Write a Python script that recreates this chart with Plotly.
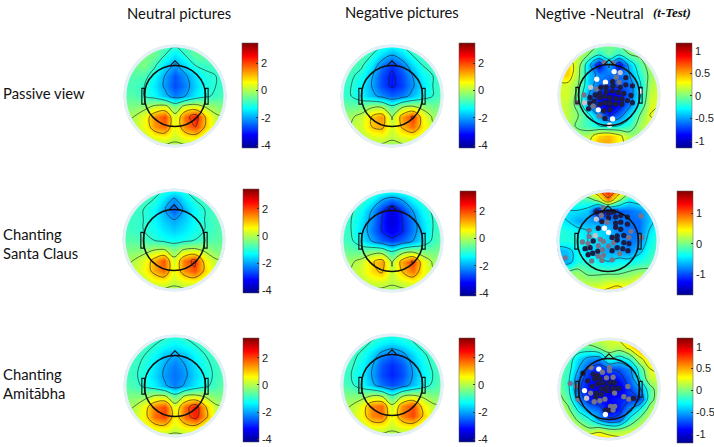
import plotly.graph_objects as go

W, H = 714, 447
grid_x = [-100, -80, -60, -40, -20, 0, 20, 40, 60, 80, 100]

row_labels = ["Passive view", "Chanting<br>Santa Claus", "Chanting<br>Amitābha"]
col_titles = ["Neutral pictures", "Negative pictures", "Negtive -Neutral"]

neutral_passive = [
 [-.5,-.5,-.5,-.5,-.7,-.9,-.7,-.5,-.5,-.5,-.5],
 [-.5,-.5,-.4,-.5,-1.,-1.5,-1.,-.6,-.6,-.6,-.6],
 [-.6,-.5,-.4,-.9,-1.6,-2.1,-1.6,-1.,-.9,-.8,-.8],
 [-.7,-.7,-.8,-1.3,-2.,-2.6,-2.1,-1.5,-1.1,-1.,-.9],
 [-.8,-.8,-1.,-1.5,-2.1,-2.7,-2.3,-1.6,-1.2,-1.,-.9],
 [-.7,-.7,-1.,-1.3,-1.8,-2.3,-2.,-1.4,-1.1,-.9,-.8],
 [-.4,-.4,-.3,.1,.2,-.5,.2,.3,-.1,-.3,-.4],
 [-.1,0,.5,1.5,2.,.2,1.7,2.4,.9,.1,-.1],
 [0,.1,.5,1.4,1.7,.4,1.5,2.,.9,.2,0],
 [-.1,0,.1,.5,.6,.2,.6,.7,.2,0,0],
 [-.2,-.2,-.2,-.2,-.2,-.2,-.2,-.2,-.2,-.2,-.2]]
negative_passive = [
 [-.6,-.6,-.7,-.8,-1.,-1.2,-1.,-.8,-.7,-.6,-.6],
 [-.6,-.6,-.7,-1.,-1.6,-2.,-1.6,-1.,-.8,-.7,-.6],
 [-.7,-.7,-.9,-1.5,-2.4,-2.9,-2.4,-1.6,-1.,-.8,-.7],
 [-.8,-.9,-1.2,-1.9,-2.7,-3.1,-2.7,-2.,-1.3,-1.,-.8],
 [-.9,-1.,-1.4,-2.,-2.7,-3.1,-2.8,-2.1,-1.5,-1.,-.8],
 [-.9,-1.,-1.4,-1.8,-2.2,-2.5,-2.3,-1.8,-1.3,-1.,-.7],
 [-.5,-.6,-.5,-.2,-.2,-.9,-.2,0,-.3,-.5,-.4],
 [-.2,-.1,.2,1.,1.4,-.1,1.3,2.1,.6,-.1,-.1],
 [-.1,0,.3,1.,1.2,.2,1.1,1.7,.7,.1,0],
 [-.2,-.1,0,.3,.4,.1,.4,.5,.2,0,0],
 [-.2,-.2,-.2,-.2,-.2,-.2,-.2,-.2,-.2,-.2,-.2]]
difference_passive = [
 [.1,.1,.1,.1,0,0,0,.1,.1,.1,.1],
 [.2,.2,.15,0,-.2,-.05,-.2,0,.05,.1,.1],
 [.4,.4,.1,-.4,-.9,-.45,-.9,-.4,-.1,.1,.1],
 [.4,.4,.05,-.4,-.55,-.6,-.6,-.5,-.2,.05,.2],
 [.2,.2,0,-.4,-.6,-.7,-.7,-.6,-.3,.1,.2],
 [.2,.2,-.1,-.5,-.8,-.95,-.85,-.6,-.3,.15,.25],
 [.2,.15,-.1,-.5,-.85,-1.05,-.85,-.55,-.2,.2,.25],
 [.2,.15,0,-.2,-.5,-.75,-.6,-.3,0,.25,.3],
 [.2,.1,-.05,-.15,-.25,-.3,-.25,-.15,.1,.2,.2],
 [.2,.15,.1,.15,.4,.45,.3,.1,.05,.1,.1],
 [.3,.3,.3,.3,.5,.5,.3,.2,.1,.1,.1]]
neutral_santa = [
 [-.6,-.6,-.7,-.8,-1.,-1.1,-1.,-.8,-.7,-.6,-.6],
 [-.6,-.7,-.8,-1.,-1.5,-2.1,-1.5,-1.,-.8,-.7,-.6],
 [-.7,-.8,-1.,-1.3,-1.9,-2.6,-1.9,-1.3,-1.,-.8,-.7],
 [-.8,-.9,-1.,-1.3,-1.7,-2.,-1.7,-1.3,-1.,-.8,-.7],
 [-.8,-.9,-1.,-1.2,-1.5,-1.7,-1.5,-1.2,-1.,-.8,-.7],
 [-.7,-.7,-.8,-1.,-1.2,-1.3,-1.2,-1.,-.8,-.7,-.6],
 [-.4,-.4,-.3,0,.1,-.4,.1,.2,-.1,-.4,-.4],
 [-.1,0,.4,1.2,1.9,.2,1.6,2.2,.7,.1,-.1],
 [0,.1,.5,1.2,1.7,.4,1.4,1.9,.9,.2,0],
 [-.1,0,.1,.5,.6,.2,.5,.6,.2,0,0],
 [-.2,-.2,-.2,-.2,-.2,-.2,-.2,-.2,-.2,-.2,-.2]]
negative_santa = [
 [-.5,-.5,-.6,-.7,-.9,-1.,-.9,-.7,-.6,-.5,-.5],
 [-.6,-.7,-.9,-1.3,-2.,-2.4,-2.,-1.3,-.9,-.7,-.6],
 [-.7,-.9,-1.3,-2.,-2.9,-3.5,-2.9,-2.,-1.3,-.9,-.7],
 [-.8,-1.,-1.5,-2.2,-3.,-3.6,-3.,-2.3,-1.5,-1.,-.7],
 [-.8,-1.,-1.6,-2.3,-3.,-3.4,-3.,-2.3,-1.6,-1.,-.7],
 [-.8,-.9,-1.4,-2.,-2.5,-2.8,-2.5,-2.,-1.4,-.9,-.6],
 [-.5,-.6,-.6,-.4,-.4,-1.1,-.4,-.2,-.5,-.5,-.4],
 [-.2,-.1,.2,.9,1.3,-.1,1.3,2.1,.6,-.1,-.1],
 [-.1,0,.3,.8,1.1,.1,1.,1.6,.6,.1,0],
 [-.1,-.1,0,.3,.3,.1,.3,.5,.2,0,0],
 [-.2,-.2,-.2,-.2,-.2,-.2,-.2,-.2,-.2,-.2,-.2]]
difference_santa = [
 [.3,.3,.3,.5,.9,1.3,.9,.3,.2,.2,.2],
 [-.2,-.2,-.2,-.2,.1,.9,.1,-.4,-.3,-.2,-.1],
 [-.5,-.5,-.5,-.6,-1.3,-1.2,-1.,-.9,-.8,-.6,-.4],
 [-.4,-.5,-.7,-.7,-.8,-.8,-.8,-.9,-.9,-.6,-.4],
 [-.3,-.3,-.4,-.5,-.5,-.6,-.8,-.9,-.9,-.5,-.3],
 [-.3,-.3,-.3,-.5,-.5,-.6,-.7,-.9,-.8,-.4,-.2],
 [-.7,-.6,-.4,-.5,-.6,-.7,-.7,-.8,-.6,-.3,-.2],
 [-.5,-.7,-.3,-.3,-.4,-.5,-.4,-.4,-.3,-.2,-.1],
 [0,0,.1,-.1,-.1,-.1,-.1,0,.1,.1,.1],
 [.2,.2,.2,.2,.2,.3,.3,.3,.5,.4,.3],
 [.2,.2,.3,.3,.5,.6,.8,.5,.4,.3,.3]]
neutral_amitabha = [
 [-.6,-.6,-.7,-.8,-.9,-1.,-.9,-.8,-.7,-.6,-.6],
 [-.6,-.7,-.8,-1.,-1.2,-1.4,-1.2,-1.,-.8,-.7,-.6],
 [-.7,-.8,-1.,-1.3,-1.8,-2.,-1.8,-1.3,-1.,-.8,-.7],
 [-.8,-.9,-1.1,-1.5,-2.,-2.3,-2.,-1.5,-1.1,-.9,-.7],
 [-.8,-.9,-1.2,-1.6,-2.1,-2.4,-2.1,-1.6,-1.2,-.9,-.7],
 [-.7,-.8,-1.1,-1.4,-1.9,-2.3,-1.9,-1.4,-1.1,-.8,-.6],
 [-.4,-.4,-.3,.1,.1,-.7,.1,.2,-.1,-.4,-.4],
 [-.1,0,.6,1.6,2.,.3,1.7,2.4,1.,.1,-.1],
 [0,.1,.7,1.7,2.,.6,1.7,2.3,1.2,.2,0],
 [-.1,0,.2,.7,.8,.3,.7,.8,.3,0,0],
 [-.2,-.2,-.2,-.2,-.2,-.2,-.2,-.2,-.2,-.2,-.2]]
negative_amitabha = [
 [-.6,-.6,-.7,-.8,-.9,-1.,-.9,-.8,-.7,-.6,-.6],
 [-.6,-.7,-.8,-1.1,-1.4,-1.6,-1.4,-1.1,-.8,-.7,-.6],
 [-.7,-.8,-1.1,-1.6,-2.2,-2.5,-2.2,-1.6,-1.1,-.8,-.7],
 [-.8,-.9,-1.3,-1.9,-2.6,-2.9,-2.6,-1.9,-1.3,-.9,-.7],
 [-.8,-1.,-1.4,-2.,-2.7,-3.,-2.7,-2.,-1.4,-1.,-.7],
 [-.7,-.9,-1.3,-1.8,-2.4,-2.7,-2.4,-1.8,-1.3,-.9,-.6],
 [-.4,-.4,-.4,-.1,-.2,-1.,-.2,0,-.2,-.4,-.4],
 [-.1,0,.5,1.5,1.7,.1,1.4,2.,.7,.1,-.1],
 [0,.1,.6,1.5,1.7,.4,1.5,2.,1.,.2,0],
 [-.1,0,.1,.6,.6,.2,.6,.7,.2,0,0],
 [-.2,-.2,-.2,-.2,-.2,-.2,-.2,-.2,-.2,-.2,-.2]]
difference_amitabha = [
 [.3,.3,.2,.2,.2,.2,.3,.5,.6,.6,.5],
 [.2,.1,-.1,-.1,0,.15,.1,.3,.55,.5,.4],
 [.1,-.1,-.4,-.55,-.6,-.2,-.35,-.2,.2,.4,.35],
 [-.1,-.15,-.5,-.75,-.85,-.75,-.7,-.55,-.15,.25,.3],
 [-.05,-.2,-.65,-.85,-.9,-.95,-.85,-.65,-.25,.15,.2],
 [0,-.2,-.7,-.9,-.95,-1.05,-1.,-.75,-.55,-.1,.15],
 [.1,-.1,-.6,-.85,-.9,-.9,-.85,-.8,-.75,-.1,.15],
 [.3,.05,-.3,-.55,-.65,-.95,-.85,-.5,-.25,.1,.2],
 [.55,.2,-.05,-.2,-.5,-.7,-.65,-.2,.05,.2,.2],
 [.5,.3,.2,.05,.15,.05,.05,.15,.2,.2,.2],
 [.3,.3,.4,.5,.55,.45,.35,.3,.2,.2,.2]]

dots_passive_x = [-9,8,10,22,-24,-7,14,33,7,20,-36,-24,-16,-6,8,22,33,46,62,-49,-37,-27,-18,-5,7,18,29,43,-62,-48,-37,-29,-18,-8,2,14,25,36,46,-40,-31,-21,-18,-8,2,13,25,-10,2,-19,-8,7,1]
dots_passive_y = [63,63,46,44,31,25,35,34,26,25,15,12,15,16,18,15,20,18,7,0,-5,0,3,7,8,5,3,-1,-15,-15,-16,-12,-5,-3,-5,-7,-8,-11,-15,-27,-22,-29,-18,-15,-16,-18,-18,-31,-29,-41,-46,-47,-59]
dots_passive_s = "ggwlwwgkkglgkkkkkkwgkkkkkkkkglkkkkkkkkkkgwkkkkkkkgkww"
dots_santa_x = [-9,1,-11,11,-22,-23,-13,1,15,25,38,65,-12,-2,15,25,38,-19,-7,1,15,25,45,-37,-25,-37,-15,8,18,31,41,66,-50,-39,-29,-9,11,18,31,41,-45,-35,-19,1,18,29,39,-39,-30,-20,-11,8,23,-19,-9,-32,-12,8,-84]
dots_santa_y = [65,55,55,57,57,43,50,45,47,50,47,49,38,37,35,37,33,25,25,17,27,23,19,21,11,9,3,7,10,11,7,7,-2,-5,0,-1,-3,2,-3,-5,-15,-13,-9,-10,-13,-15,-19,-27,-24,-20,-17,-19,-25,-30,-28,-39,-38,-37,-33]
dots_santa_s = "gkkkklgkkkkgkgkkkkwwkkgglggkkkggggkggkkkkkggkkkkkkgkggggggg"
dots_amitabha_x = [-20,-35,1,1,-51,-31,-22,-13,-42,-28,-18,-5,8,-76,-64,-33,-22,-12,1,11,37,-48,-36,-25,-15,-4,8,19,-26,-15,-5,8,11,29,39,48,-44,-61,-29,-18,-8,3,11,-7,1,8,-7]
dots_amitabha_y = [39,42,42,36,31,29,26,33,16,20,20,22,23,11,5,5,10,12,13,13,5,-3,-8,-8,0,3,1,1,-16,-11,-3,-5,-8,-15,-20,-18,-18,-20,-25,-23,-20,-34,-34,-41,-42,-41,-50]
dots_amitabha_s = "wgggkkkgkkkggggkkkkkgwgkkkkkkkkkgggklggggggkkgw"

tick_a = [-4, -2, 0, 2]
tick_p = [-1, -0.5, 0, 0.5, 1]
tick_s = [-1, 0, 1]
tick_t_a = ["-4", "-2", "0", "2"]
tick_t_p = ["-1", "-0.5", "0", "0.5", "1"]
tick_t_s = ["-1", "0", "1"]

matlab_jet = [[0, "rgb(0,0,143)"], [.125, "rgb(0,0,255)"], [.375, "rgb(0,255,255)"], [.625, "rgb(255,255,0)"], [.875, "rgb(255,0,0)"], [1, "rgb(128,0,0)"]]

panels = [
 (neutral_passive, 175, 96, 43, 105, 242, -4.2, 3.46, tick_a, tick_t_a, 1.0),
 (negative_passive, 392, 96, 43, 105, 459, -4.2, 3.46, tick_a, tick_t_a, 1.0),
 (difference_passive, 609, 95, 43, 105, 676, -1.15, 1.17, tick_p, tick_t_p, .25),
 (neutral_santa, 174, 240, 189, 104, 243, -4.2, 3.46, tick_a, tick_t_a, 1.0),
 (negative_santa, 392, 241, 191, 105, 460, -4.2, 3.46, tick_a, tick_t_a, 1.0),
 (difference_santa, 608, 241, 191, 104, 677, -1.7, 1.75, tick_s, tick_t_s, .5),
 (neutral_amitabha, 175, 386, 338, 104, 243, -4.2, 3.46, tick_a, tick_t_a, 1.0),
 (negative_amitabha, 392, 385, 338, 104, 459, -4.2, 3.46, tick_a, tick_t_a, 1.0),
 (difference_amitabha, 609, 389, 338, 105, 677, -1.2, 1.2, tick_p, tick_t_p, .25),
]
dots = {2: (dots_passive_x, dots_passive_y, dots_passive_s),
        5: (dots_santa_x, dots_santa_y, dots_santa_s),
        8: (dots_amitabha_x, dots_amitabha_y, dots_amitabha_s)}
shade = {"k": "#1c1c44", "g": "#74748c", "l": "#c4c4cc", "w": "#ffffff"}

R_PX = 51
HALF_PX = 58
fig = go.Figure()
shapes = []
layout_axes = {}
for i, (z, cx, cy, bar_top, bar_len, bar_x, zmin, zmax, tv, tt, step) in enumerate(panels):
    n = "" if i == 0 else str(i + 1)
    xa, ya = "x" + n, "y" + n
    rng = [-100 * HALF_PX / R_PX, 100 * HALF_PX / R_PX]
    layout_axes["xaxis" + n] = dict(domain=[(cx - HALF_PX) / W, (cx + HALF_PX) / W], range=rng, visible=False, anchor=ya, fixedrange=True)
    layout_axes["yaxis" + n] = dict(domain=[1 - (cy + HALF_PX) / H, 1 - (cy - HALF_PX) / H], range=rng, visible=False, anchor=xa, fixedrange=True)
    fig.add_trace(go.Heatmap(
        x=grid_x, y=grid_x, z=z[::-1], xaxis=xa, yaxis=ya, zsmooth="best",
        colorscale=matlab_jet, zmin=zmin, zmax=zmax, hoverinfo="skip",
        colorbar=dict(x=bar_x / W, xanchor="left", y=1 - bar_top / H, yanchor="top", lenmode="pixels", len=bar_len,
                      thickness=16, thicknessmode="pixels", xpad=0, ypad=0, outlinewidth=0.5, outlinecolor="#555",
                      tickmode="array", tickvals=tv, ticktext=tt, ticks="inside", ticklen=2, tickcolor="#333",
                      tickfont=dict(family="Liberation Sans", size=11, color="#222"))))
    fig.add_trace(go.Contour(
        x=grid_x, y=grid_x, z=z[::-1], xaxis=xa, yaxis=ya, showscale=False, hoverinfo="skip",
        contours=dict(coloring="none", start=-6 * step, end=6 * step, size=step, showlines=True),
        line=dict(color="#1a1a1a", width=0.6, smoothing=1.0), showlegend=False))
    if i in dots:
        dx, dy, ds = dots[i]
        fig.add_trace(go.Scatter(x=dx, y=dy, xaxis=xa, yaxis=ya, mode="markers", hoverinfo="skip", showlegend=False,
                                 marker=dict(size=5.3, color=[shade[c] for c in ds], line=dict(width=0))))
    common = dict(xref=xa, yref=ya, layer="above")
    # white page beyond the scalp disc, pale rim, then head outline
    shapes.append(dict(type="circle", x0=-134, x1=134, y0=-134, y1=134, line=dict(color="white", width=34), **common))
    shapes.append(dict(type="circle", x0=-98, x1=98, y0=-98, y1=98, line=dict(color="#e4eff8", width=3), **common))
    shapes.append(dict(type="circle", x0=-60, x1=60, y0=-60, y1=60, line=dict(color="#111", width=1.5), **common))
    shapes.append(dict(type="path", path="M -10 59 L 0 69 L 10 59", line=dict(color="#111", width=1.1), **common))
    shapes.append(dict(type="rect", x0=-65, x1=-59, y0=-16, y1=15, line=dict(color="#111", width=1.1), **common))
    shapes.append(dict(type="rect", x0=59, x1=65, y0=-16, y1=15, line=dict(color="#111", width=1.1), **common))

anns = []
def text(s, x, y, size=14.8, xanchor="left", **font):
    anns.append(dict(text=s, x=x / W, y=1 - y / H, xref="paper", yref="paper", xanchor=xanchor, yanchor="middle", showarrow=False,
                     align="left", font=dict(family=font.pop("family", "Lato"), size=size, color="#111", **font)))
text(col_titles[0], 125, 13)
text(col_titles[1], 343, 12)
text(col_titles[2], 533, 13)
text("<b><i>(t-Test)</i></b>", 651, 13, size=13, family="Liberation Serif")
text(row_labels[0], 1, 93)
text(row_labels[1], 1, 243)
text(row_labels[2], 1, 383)

fig.update_layout(width=W, height=H, margin=dict(l=0, r=0, t=0, b=0, autoexpand=False), paper_bgcolor="white", plot_bgcolor="rgba(0,0,0,0)",
                  showlegend=False, shapes=shapes, annotations=anns, **layout_axes)
fig.write_html("out.html", config=dict(displayModeBar=False), post_script="document.body.style.margin='0';")
